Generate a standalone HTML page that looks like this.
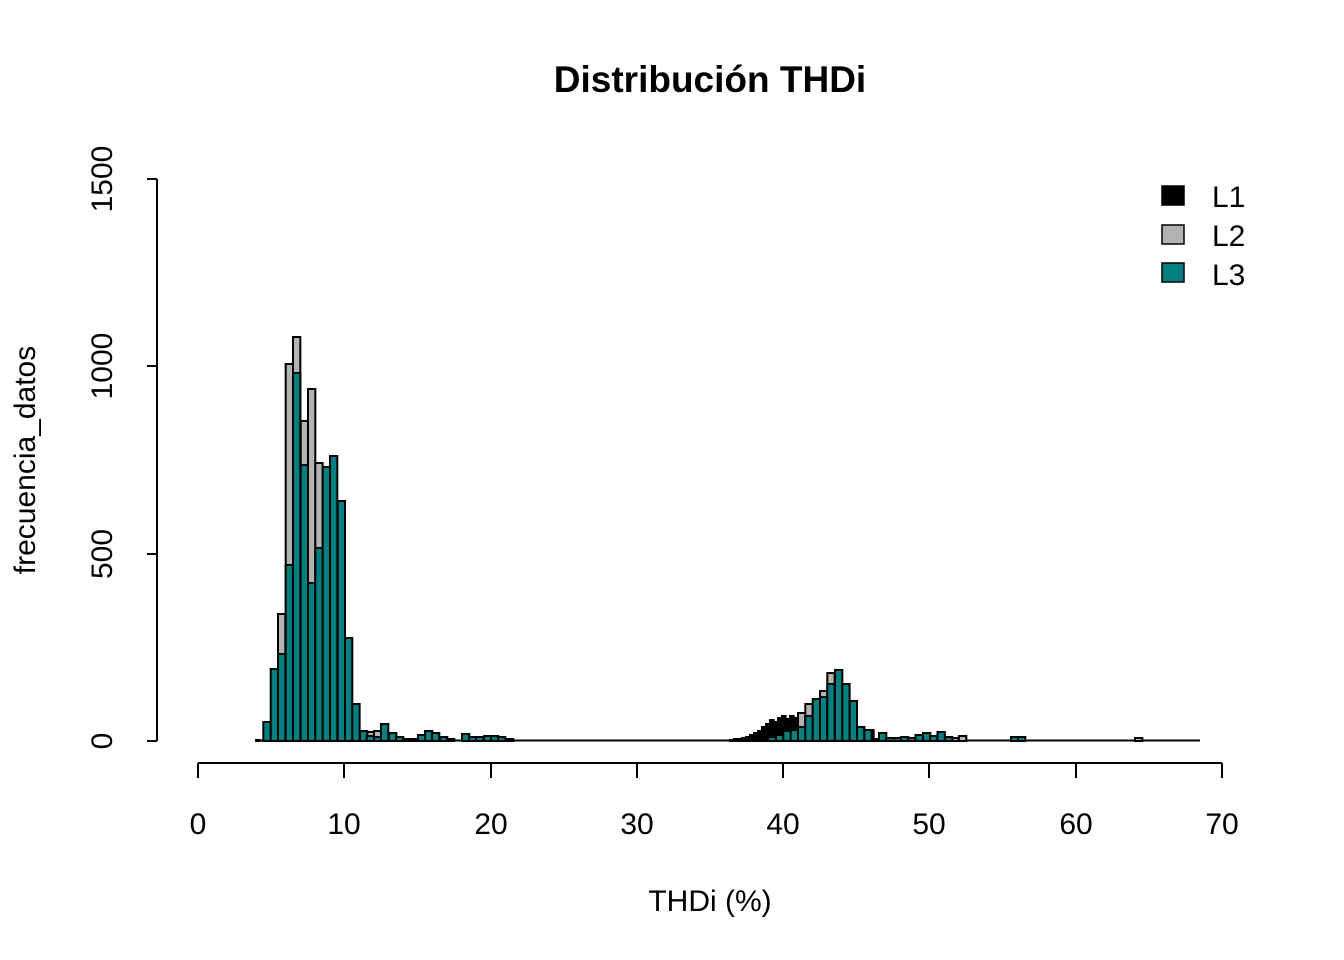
<!DOCTYPE html>
<html><head><meta charset="utf-8"><style>body{margin:0;background:#fff}svg{display:block}text{font-family:"Liberation Sans",Arial,sans-serif}</style></head>
<body>
<svg id="s" width="1344" height="960" xmlns="http://www.w3.org/2000/svg">
<text x="710" y="92" font-size="37" font-weight="bold" text-anchor="middle">Distribución THDi</text>
<g stroke="#000" stroke-width="2" fill="none">
<line x1="157" y1="179" x2="157" y2="741"/>
<line x1="147" y1="179" x2="157" y2="179"/><line x1="147" y1="366" x2="157" y2="366"/>
<line x1="147" y1="554" x2="157" y2="554"/><line x1="147" y1="741" x2="157" y2="741"/>
<line x1="198" y1="763" x2="1222" y2="763"/>
<line x1="198" y1="763" x2="198" y2="778"/><line x1="344" y1="763" x2="344" y2="778"/>
<line x1="491" y1="763" x2="491" y2="778"/><line x1="637" y1="763" x2="637" y2="778"/>
<line x1="783" y1="763" x2="783" y2="778"/><line x1="929" y1="763" x2="929" y2="778"/>
<line x1="1076" y1="763" x2="1076" y2="778"/><line x1="1222" y1="763" x2="1222" y2="778"/>
<line x1="256" y1="740.5" x2="1200" y2="740.5"/>
</g>
<g font-size="30" text-anchor="middle">
<text transform="translate(112,741) rotate(-90)">0</text>
<text transform="translate(112,554) rotate(-90)">500</text>
<text transform="translate(112,366) rotate(-90)">1000</text>
<text transform="translate(112,179) rotate(-90)">1500</text>
<text x="198" y="834">0</text><text x="344" y="834">10</text><text x="491" y="834">20</text>
<text x="637" y="834">30</text><text x="783" y="834">40</text><text x="929" y="834">50</text>
<text x="1076" y="834">60</text><text x="1222" y="834">70</text>
<text x="710" y="911">THDi (%)</text>
<text transform="translate(35,460) rotate(-90)">frecuencia_datos</text>
</g>
<g stroke="#000" stroke-width="1.5">
<rect x="1162" y="186" width="22" height="19" fill="#000"/>
<rect x="1162" y="225" width="22" height="19" fill="#b3b3b3"/>
<rect x="1162" y="263" width="22" height="19" fill="#008080"/>
</g>
<g font-size="30"><text x="1212" y="207">L1</text><text x="1212" y="246">L2</text><text x="1212" y="285">L3</text></g>
<g id="bars" stroke="#000" stroke-width="2"></g>
</svg>
<script>
var g=document.getElementById('bars'),B=741,W=7.32;
function r(x,t,f,w){var e=document.createElementNS('http://www.w3.org/2000/svg','rect');e.setAttribute('x',x);e.setAttribute('y',Math.min(t,B-1));e.setAttribute('width',w||W);e.setAttribute('height',Math.max(B-t,1));e.setAttribute('fill',f);g.appendChild(e);}
var bl=[[730,740],[734,739],[738,739],[742,738],[746,737],[750,735],[754,733],[758,731],[762,727],[766,724],[770,720],[774,722],[778,718],[782,716],[786,719],[790,716],[794,718],[798,715],[802,717],[806,715],[810,719],[308,567],[256,740],[870,730]];
bl.forEach(function(b){r(b[0],b[1],'#000',3.66)});
var gr=[[278,614],[285.7,364],[293,337],[300.7,421],[308,389],[315.3,463],[366.7,732],[374,731],[798,713],[805.3,704],[820,691],[827.3,673],[951,738],[959,736],[1135,738]];
gr.forEach(function(b){r(b[0],b[1],'#b3b3b3')});
var te=[[263.3,722],[270.7,669],[278,654],[285.7,565],[293,373],[300.7,465],[308,583],[315.3,548],[322.7,467],[330,456],[337.7,501],[345,638],[352.3,704],[360,731],[366.7,736],[374,737],[381,724],[389,733],[396,737],[403,739],[410,739],[418,735],[425,731],[432,733],[440,737],[447,739],[462,734],[469,737],[476,737],[484,736],[491,736],[498,737],[506,739],
[768.3,737],[776,735],[783.3,731],[790.7,730],[798,727],[805.3,716],[812.7,699],[820,697],[827.3,684],[835,670],[842.3,684],[849.7,701],[857,727],[864.3,730],[871.7,739],[879,733],[886,738],[893.5,738],[901,737],[908,738],[915.5,735],[923,733],[930,736],[937.5,732],[945,737],[1011,737],[1018,737]];
te.forEach(function(b){r(b[0],b[1],'#008080')});
</script>
</body></html>
